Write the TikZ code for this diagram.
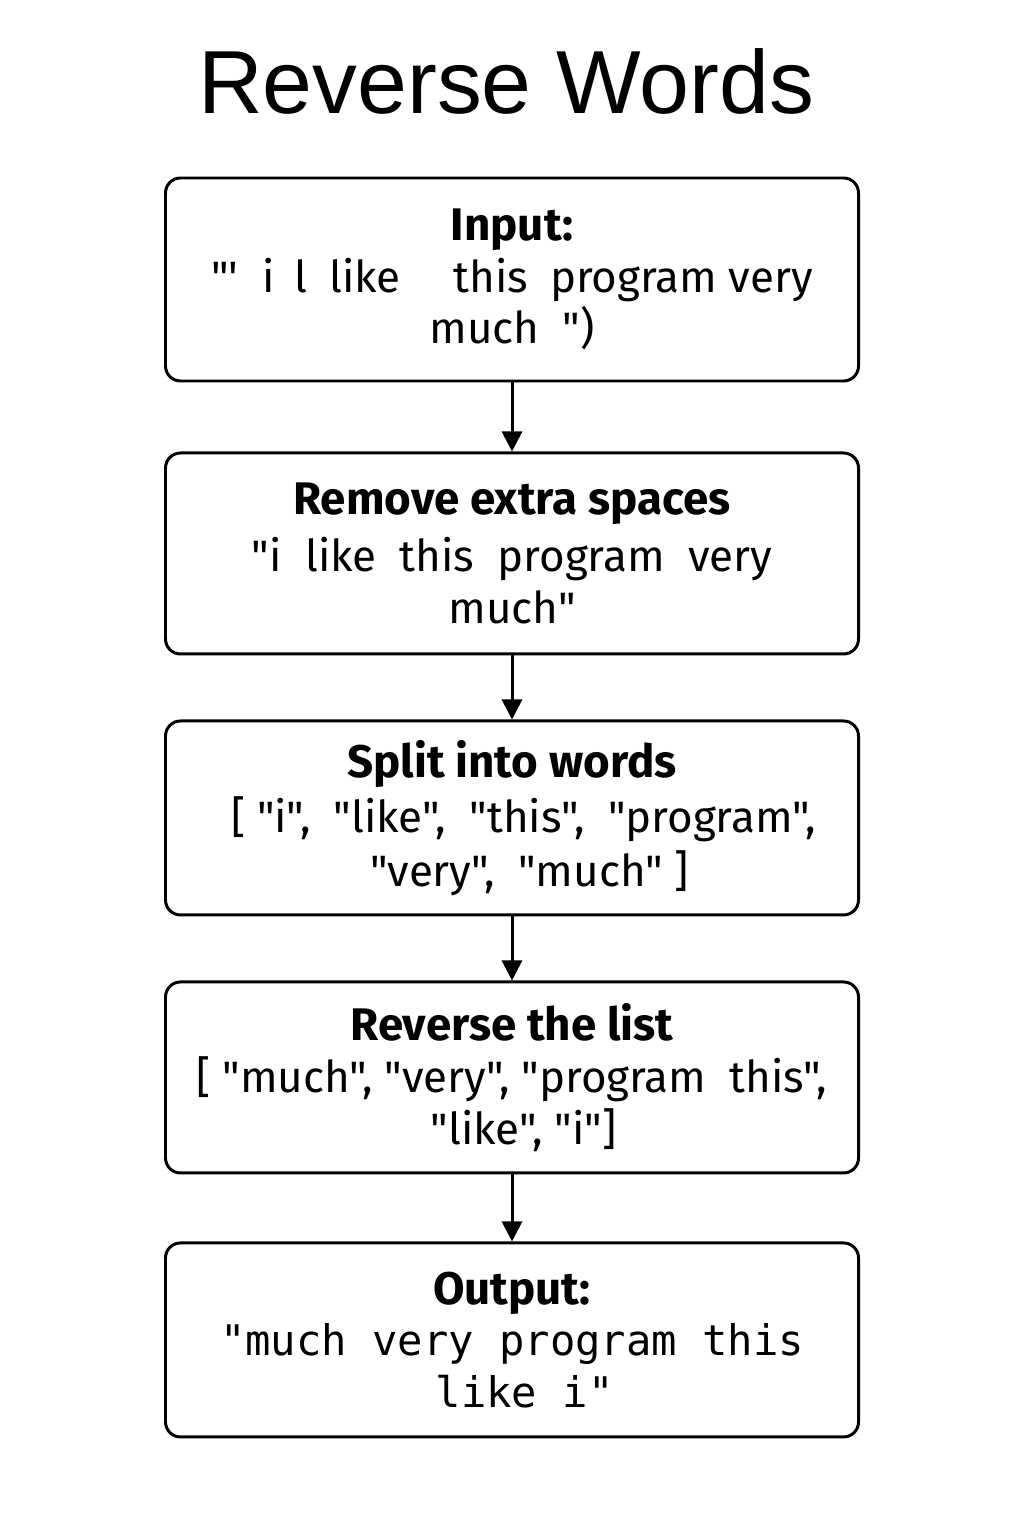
\documentclass[tikz,border=0pt]{standalone}
\usepackage{fontspec}
\setmainfont{Fira Sans}[Ligatures=TeXOff]
\setmonofont{DejaVu Sans Mono}
\newfontfamily\titlefont{Liberation Sans}
\usepackage{tikz}
\usetikzlibrary{positioning,arrows.meta}

\begin{document}
\begin{tikzpicture}[
    stepbox/.style={draw, line width=1.7pt, rounded corners=0.3cm,
        minimum width=13.86cm, minimum height=3.88cm, align=center,
        font=\fontsize{25}{29.5}\selectfont},
    flow/.style={-{Triangle[length=0.4cm, width=0.4cm]}, line width=1.7pt}
]
    % Page
    \useasboundingbox (0,0) rectangle (20.48,-30.72);

    % Title
    \node (title) at (10.12,-1.62) {\titlefont\fontsize{51}{60}\selectfont Reverse Words};

    % Steps
    \node[stepbox, minimum height=4.06cm] (input) at (10.24,-5.59)
        {{\bfseries\fontsize{26}{29.5}\selectfont Input:}\\ "'\hspace{0.55em}i\hspace{0.45em}l\hspace{0.5em}like\hspace{1.2em}this\hspace{0.5em}program very\\ much \ ")};
    \node[stepbox, minimum height=4.02cm, below=1.38cm of input] (clean)
        {{\bfseries\fontsize{26}{29.5}\selectfont Remove extra spaces}\\[3pt] "i \ like \ this \ program \ very\\ much"};
    \node[stepbox, below=1.28cm of clean] (split)
        {{\bfseries\fontsize{26}{29.5}\selectfont Split into words}\\[2pt] \ \ {[} "i", \ "like", \ "this", \ "program",\\[1pt] \ \ \ "very", \ "much" ]};
    \node[stepbox, minimum height=3.82cm, below=1.28cm of split] (rev)
        {{\bfseries\fontsize{26}{29.5}\selectfont Reverse the list}\\ {[} "much", "very", "program \ this",\\ \ \ "like", "i"]};
    \node[stepbox, below=1.34cm of rev] (output)
        {{\bfseries\fontsize{26}{29.5}\selectfont Output:}\\ {\ttfamily\fontsize{24}{29.5}\selectfont "much very program this}\\ {\ttfamily\fontsize{24}{29.5}\selectfont \ like i"}};

    % Arrows
    \draw[flow] (input) -- (clean);
    \draw[flow] (clean) -- (split);
    \draw[flow] (split) -- (rev);
    \draw[flow] (rev) -- (output);
\end{tikzpicture}
\end{document}
